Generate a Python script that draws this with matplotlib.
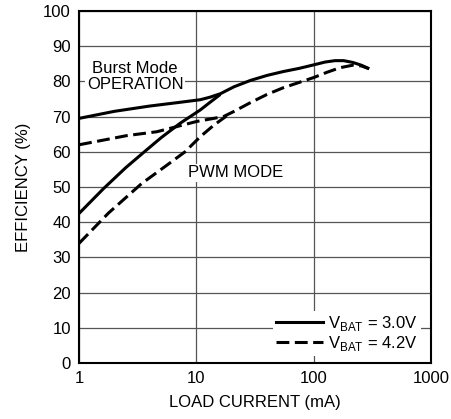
import numpy as np
import matplotlib
matplotlib.use('Agg')
import matplotlib.pyplot as plt

plt.rcParams['font.family'] = ['Liberation Sans', 'DejaVu Sans']

# load current (mA) and efficiency (%)
burst_30_x = [1, 2, 4, 7, 10.8, 13, 16, 21, 29, 40, 55, 75, 100, 125, 152, 180, 215, 255, 297]
burst_30_y = [69.5, 71.5, 73, 74, 74.8, 75.5, 76.5, 78.5, 80.3, 81.7, 82.8, 83.7, 84.7, 85.5, 85.9, 85.9, 85.4, 84.6, 83.6]
burst_42_x = [1, 2.55, 4.6, 10, 17, 20.7, 29, 40, 55, 75, 100, 130, 168, 215, 255, 297]
burst_42_y = [62, 64.6, 65.7, 68.6, 70, 71.4, 74, 76.3, 78.2, 79.7, 81.1, 82.6, 83.9, 84.6, 84.4, 83.6]
pwm_30_x = [1, 1.61, 2.5, 3.6, 5, 7.26, 10.8, 13, 16]
pwm_30_y = [42.5, 49.5, 55.5, 60, 64, 68.1, 71.9, 74, 76.3]
pwm_42_x = [1, 1.78, 3.42, 5.5, 8, 10.8, 14, 18.1]
pwm_42_y = [34, 42.6, 51, 56, 60, 64.3, 67.5, 70.2]

fig = plt.figure(figsize=(4.52, 4.19), dpi=100)
ax = fig.add_axes([0.175, 0.1337, 0.7785, 0.84])

lw = 2.2
dash = (4.2, 1.8)
ax.plot(burst_30_x, burst_30_y, color='black', lw=lw, solid_capstyle='butt', zorder=3)
ax.plot(pwm_30_x, pwm_30_y, color='black', lw=lw, solid_capstyle='butt', zorder=3)
ax.plot(burst_42_x, burst_42_y, color='black', lw=lw, dashes=dash, zorder=3)
ax.plot(pwm_42_x, pwm_42_y, color='black', lw=lw, dashes=dash, zorder=3)

ax.set_xscale('log')
ax.set_xlim(1, 1000)
ax.set_ylim(0, 100)
ax.set_xticks([1, 10, 100, 1000])
ax.set_xticklabels(['1', '10', '100', '1000'])
ax.xaxis.set_minor_locator(matplotlib.ticker.NullLocator())
ax.set_yticks(np.arange(0, 101, 10))
ax.tick_params(length=0, labelsize=12, pad=6)
ax.grid(True, color='#555555', lw=0.9)
ax.set_axisbelow(True)
for s in ax.spines.values():
    s.set_linewidth(1.5)

ax.set_xlabel('LOAD CURRENT (mA)', fontsize=12, labelpad=6)
ax.set_ylabel('EFFICIENCY (%)', fontsize=12, labelpad=9)

ax.text(3.0, 81.3, 'Burst Mode\nOPERATION', fontsize=12, ha='center', va='center',
        linespacing=1.1, bbox=dict(fc='white', ec='none', pad=1), zorder=2)
ax.text(8.5, 54, 'PWM MODE', fontsize=12, ha='left', va='center',
        bbox=dict(fc='white', ec='none', pad=1), zorder=2)

leg = ax.legend([plt.Line2D([], [], color='black', lw=lw),
                 plt.Line2D([], [], color='black', lw=lw, dashes=dash)],
                ['V$_{\\mathregular{BAT}}$ = 3.0V', 'V$_{\\mathregular{BAT}}$ = 4.2V'],
                loc='lower right', bbox_to_anchor=(0.995, -0.005), frameon=True,
                fontsize=12, handlelength=2.8, handletextpad=0.3, labelspacing=0.05,
                borderpad=0.2, fancybox=False)
leg.get_frame().set_edgecolor('none')
leg.get_frame().set_facecolor('white')
leg.get_frame().set_alpha(1)

fig.savefig('out.png', dpi=100)
